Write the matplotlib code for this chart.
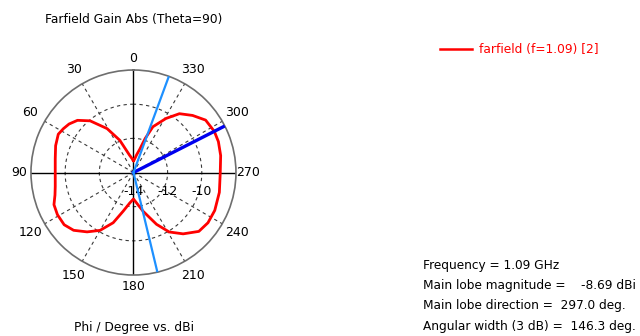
import numpy as np
import matplotlib
matplotlib.use("Agg")
import matplotlib.pyplot as plt

# Farfield cut at Theta = 90, gain in dBi versus Phi in degrees
phi_deg = [0, 5, 13, 23, 31, 40, 47, 53, 58, 63, 71, 80, 90, 100, 106, 112,
           119, 127, 134, 142, 150, 158, 165, 173, 180, 186, 194, 204, 211,
           219, 228, 236, 245, 257, 270, 281, 290, 297, 306, 314, 322, 329,
           337, 341, 345, 350, 355, 360]
gain_dbi = [-13.30, -13.20, -12.95, -11.95, -11.00, -10.05, -9.52, -9.28,
            -9.16, -9.06, -9.18, -9.35, -9.42, -9.35, -9.22, -8.98,
            -8.91, -8.92, -9.13, -9.59, -10.09, -10.83, -11.65, -12.20,
            -12.45, -12.20, -11.66, -10.68, -9.94,
            -9.38, -8.85, -8.74, -8.75, -8.84, -8.92, -8.80, -8.71, -8.69,
            -8.78, -9.19, -9.63, -10.31,
            -11.09, -11.89, -12.60, -12.95, -13.20, -13.30]

main_lobe_dir = 297.0
main_lobe_mag = -8.69
beam_edges = [193.5, 339.8]      # -3 dB directions
angular_width = 146.3
frequency = 1.09

r_min, r_max = -14, -8
ring_values = [-12, -10]
ring_labels = [-14, -12, -10]
angle_labels = list(range(0, 360, 30))

plt.rcParams['font.family'] = ['DejaVu Sans']

fig = plt.figure(figsize=(6.4, 3.36), dpi=100)
ax = fig.add_axes([0.0484, 0.1815, 0.3203, 0.6101], projection='polar')
ax.set_theta_zero_location('N')
ax.set_theta_direction(1)
ax.set_rlim(r_min, r_max)
ax.grid(False)
ax.set_xticks([])
ax.set_yticks([])
ax.spines['polar'].set_color('#6e6e6e')
ax.spines['polar'].set_linewidth(1.2)

# dashed rings
t_full = np.linspace(0, 2 * np.pi, 361)
for rv in ring_values:
    ax.plot(t_full, np.full_like(t_full, rv), ls=(0, (3, 3)),
            color='#3a3a3a', lw=0.8, zorder=1)

# radial grid lines
for a in angle_labels:
    th = np.deg2rad(a)
    if a % 90 == 0:
        ax.plot([th, th], [r_min, r_max], color='black', lw=1.0, zorder=1)
    else:
        ax.plot([th, th], [r_min, r_max], ls=(0, (3, 3)),
                color='#3a3a3a', lw=0.8, zorder=1)

# angle labels around the rim
for a in angle_labels:
    frac = 0.115 if a % 90 == 0 else 0.165
    ax.text(np.deg2rad(a), r_max + frac * (r_max - r_min), str(a),
            ha='center', va='center', fontsize=9, clip_on=False)

# ring value labels
for rv in ring_labels:
    ax.annotate(str(rv), xy=(np.deg2rad(270), rv), xytext=(0, -9),
                textcoords='offset points', ha='center', va='top',
                fontsize=9)

# pattern
ax.plot(np.deg2rad(phi_deg), gain_dbi, color='red', lw=2.0, zorder=3,
        label=f'farfield (f={frequency}) [2]')

# main lobe direction and -3 dB edges
th = np.deg2rad(main_lobe_dir)
ax.plot([th, th], [r_min, r_max], color='#0000ee', lw=2.4, zorder=4)
for e in beam_edges:
    th = np.deg2rad(e)
    ax.plot([th, th], [r_min, r_max], color='#1e90ff', lw=1.6, zorder=4)

fig.text(133.5 / 640, 1 - 19 / 336, 'Farfield Gain Abs (Theta=90)',
         ha='center', va='center', fontsize=8.8)
fig.text(133.5 / 640, 1 - 328 / 336, 'Phi / Degree vs. dBi',
         ha='center', va='center', fontsize=8.8)

# legend entry
fig.add_artist(plt.Line2D([440 / 640, 472 / 640], [1 - 49 / 336, 1 - 49 / 336],
                          color='red', lw=1.8))
fig.text(479 / 640, 1 - 49 / 336, f'farfield (f={frequency}) [2]',
         color='red', ha='left', va='center', fontsize=8.8)

info = [
    f'Frequency = {frequency} GHz',
    f'Main lobe magnitude =    {main_lobe_mag} dBi',
    f'Main lobe direction =  {main_lobe_dir:.1f} deg.',
    f'Angular width (3 dB) =  {angular_width} deg.',
]
for i, line in enumerate(info):
    fig.text(423 / 640, 1 - (265 + 20.5 * i) / 336, line,
             ha='left', va='center', fontsize=8.7)

fig.savefig('out.png', dpi=100)
